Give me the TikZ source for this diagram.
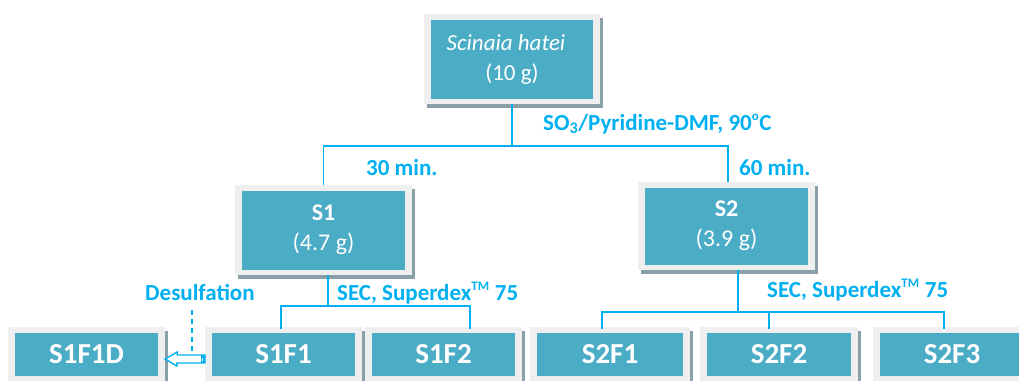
\documentclass[tikz,border=0pt]{standalone}
\usepackage{fontspec}
\setmainfont{Carlito}
\usetikzlibrary{shadows,arrows.meta}
\definecolor{tealc}{HTML}{4BACC6}
\definecolor{framec}{HTML}{EFEFEF}
\definecolor{shadowc}{HTML}{8AA0A9}
\definecolor{linec}{HTML}{00B0F0}
\newcommand{\smallsup}[1]{\textsuperscript{\fontsize{13}{13}\selectfont #1}}
\tikzset{
  box/.style={fill=framec, draw=none, inner sep=0pt, text=white, align=center,
    drop shadow={opacity=1, fill=shadowc, shadow xshift=3pt, shadow yshift=-4pt},
    path picture={\fill[tealc] ([shift={(7pt,-6pt)}]path picture bounding box.north west)
      rectangle ([shift={(-7pt,5pt)}]path picture bounding box.south east);}},
  bigbox/.style={box, minimum width=177pt, minimum height=90pt, font=\fontsize{24}{30}\selectfont},
  smallbox/.style={box, minimum width=158pt, minimum height=54pt, font=\bfseries\fontsize{29}{32}\selectfont},
  conn/.style={draw=linec, line width=1.8pt},
  lbl/.style={text=linec, inner sep=0pt, anchor=base west, font=\bfseries\fontsize{23}{26}\selectfont}
}
\begin{document}
\begin{tikzpicture}[x=1pt, y=-1pt]
\useasboundingbox (0,0) rectangle (1019,380);
\clip (0,0) rectangle (1019,380);
% boxes
\node[bigbox, minimum width=176pt, font=\fontsize{23}{30}\selectfont] (top) at (512,59) {\textit{Scinaia hatei}\hspace*{12pt}\\(10 g)};
\node[bigbox] (s1) at (323.5,230) {\textbf{S1}\\(4.7 g)};
\node[bigbox, minimum height=88pt] (s2) at (726.5,226) {\textbf{S2}\\(3.9 g)};
\node[smallbox, minimum width=157pt] (s1f1d) at (86.5,354) {\raisebox{-4pt}{S1F1D}};
\node[smallbox, minimum width=157pt] (s1f1) at (283.5,354) {\raisebox{-4pt}{S1F1}};
\node[smallbox, minimum width=157pt] (s1f2) at (443.5,354) {\raisebox{-4pt}{S1F2}};
\node[smallbox, minimum width=160pt] (s2f1) at (610,354) {\raisebox{-4pt}{S2F1}};
\node[smallbox] (s2f2) at (779,354) {\raisebox{-4pt}{S2F2}};
\node[smallbox] (s2f3) at (952,354) {\raisebox{-4pt}{S2F3}};
% labels
\node[lbl] (reag) at (543,130) {SO\textsubscript{3}/Pyridine-DMF, 90\smallsup{o}C};
\node[lbl] (t30) at (366,175) {30 min.};
\node[lbl] (t60) at (739,175) {60 min.};
\node[lbl] (sec1) at (337,300) {SEC, Superdex\smallsup{TM} 75};
\node[lbl] (sec2) at (767,297) {SEC, Superdex\smallsup{TM} 75};
\node[lbl] (desulf) at (145,300) {Desulfation};
% connectors
\coordinate (j0) at (512,146);
\draw[conn] (top.south) -- (j0);
\draw[conn] (s1.north) |- (j0) -| ([xshift=1.5pt]s2.north);
\coordinate (j1) at (328,306);
\draw[conn] ([xshift=4.5pt]s1.south) -- (j1);
\draw[conn] ([xshift=-2.5pt,yshift=-2pt]s1f1.north) |- (j1) -| ([xshift=26.5pt,yshift=-2pt]s1f2.north);
\coordinate (j2) at (738,312);
\draw[conn] ([xshift=11.5pt]s2.south) -- (j2);
\draw[conn] ([xshift=-8pt,yshift=-2pt]s2f1.north) |- (j2) -| ([xshift=-8pt,yshift=-2pt]s2f3.north);
\draw[conn] ([xshift=-10pt,yshift=-2pt]s2f2.north) -- ([xshift=-10pt]s2f2.north |- j2);
% desulfation arrow
\coordinate (d1) at (192,310);
\coordinate (d2) at (192,351);
\draw[conn, dash pattern=on 5pt off 4pt] (d1) -- (d2);
\draw[draw=linec, line width=1.4pt, fill=white, line join=miter]
  ([yshift=-5pt]s1f1d.east) -- ++(12,-7) -- ++(0,3) -- ([yshift=-1pt]s1f1.west)
  -- ([yshift=-9pt]s1f1.west) -- ++(-28,0) -- ++(0,3) -- cycle;
\fill[linec] ([xshift=-4pt,yshift=-1pt]s1f1.west) rectangle ([yshift=-9pt]s1f1.west);
\fill[white] ([xshift=-3pt,yshift=-3.5pt]s1f1.west) rectangle ([xshift=-2.2pt,yshift=-6.5pt]s1f1.west);
\end{tikzpicture}
\end{document}
